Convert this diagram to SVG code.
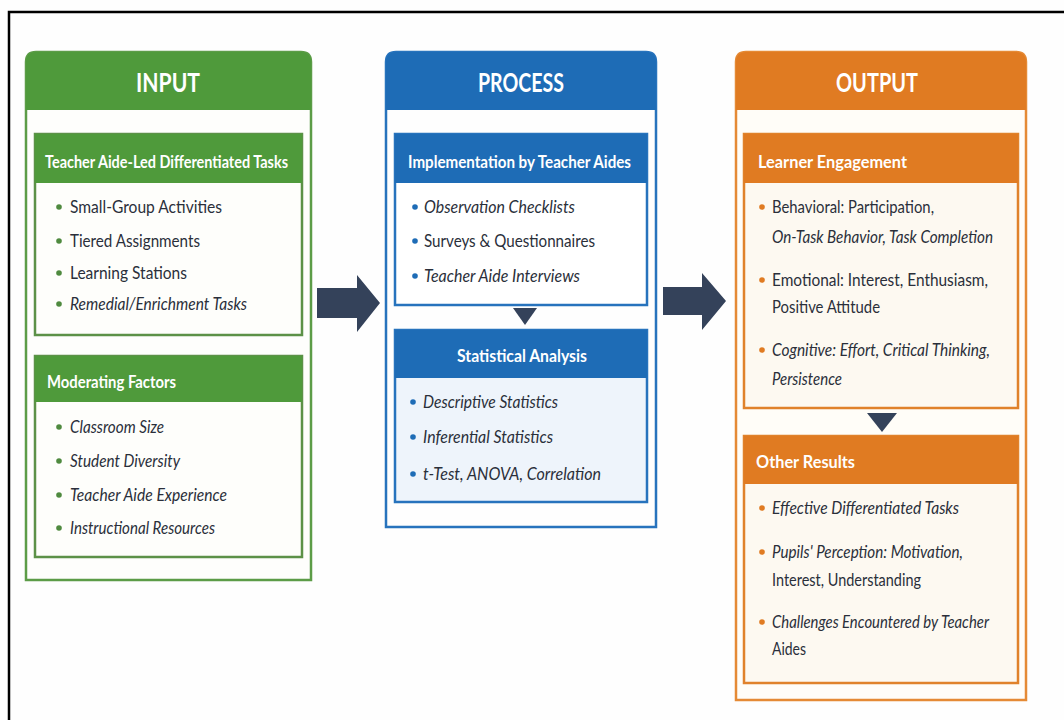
<svg xmlns="http://www.w3.org/2000/svg" width="1064" height="720" viewBox="0 0 1064 720">
<defs>
<style>
.title{font-family:Lato,"Open Sans","Liberation Sans",sans-serif;font-weight:bold;font-size:26px;fill:#ffffff;text-anchor:middle}
.hdr{font-family:Lato,"Open Sans","Liberation Sans",sans-serif;font-weight:bold;font-size:16.5px;fill:#ffffff}
.item{font-family:Lato,"Open Sans","Liberation Sans",sans-serif;font-size:18px;fill:#2a2f3a}
.it{font-style:italic}
.g-panel{fill:#fefefc;stroke:#5c9c47;stroke-width:2.5}
.g-head{fill:#4f9a3b}
.g-body{fill:#fefefb;stroke:#5c9147;stroke-width:2.5}
.b-panel{fill:#fefefe;stroke:#2773bd;stroke-width:2.5}
.b-head{fill:#1e6cb6}
.b-body{fill:#ffffff;stroke:#2773bd;stroke-width:2.5}
.b-body2{fill:#eef4fb;stroke:#2773bd;stroke-width:2.5}
.o-panel{fill:#fffdf8;stroke:#e58a35;stroke-width:2.5}
.o-head{fill:#e07b22}
.o-body{fill:#fdf9f1;stroke:#e0822b;stroke-width:2.5}
.dotg{fill:#4f8a3f}
.dotb{fill:#1e6cb6}
.doto{fill:#e07b22}
.arrow{fill:#34425a}
</style>
</defs>
<rect x="0" y="0" width="1064" height="720" fill="#fefefe"/>
<path d="M9,720 V12 H1064" fill="none" stroke="#000000" stroke-width="2.5"/>

<g id="input">
<path class="g-panel" d="M26,580 V62 Q26,52 36,52 H301 Q311,52 311,62 V580 Z"/>
<path class="g-head" d="M26,110 V62 Q26,52 36,52 H301 Q311,52 311,62 V110 Z"/>
<text class="title" x="168" y="92" textLength="64" lengthAdjust="spacingAndGlyphs">INPUT</text>
</g>
<g id="input-tasks">
<rect class="g-body" x="35" y="134" width="267" height="201"/>
<rect class="g-head" x="35" y="134" width="267" height="49"/>
<text class="hdr" x="45" y="168" textLength="243" lengthAdjust="spacingAndGlyphs">Teacher Aide-Led Differentiated Tasks</text>
<circle class="dotg" cx="59" cy="207" r="2.8"/><text class="item" x="70" y="213" textLength="152" lengthAdjust="spacingAndGlyphs">Small-Group Activities</text>
<circle class="dotg" cx="59" cy="241" r="2.8"/><text class="item" x="70" y="247" textLength="130" lengthAdjust="spacingAndGlyphs">Tiered Assignments</text>
<circle class="dotg" cx="59" cy="273" r="2.8"/><text class="item" x="70" y="279" textLength="117" lengthAdjust="spacingAndGlyphs">Learning Stations</text>
<circle class="dotg" cx="59" cy="304" r="2.8"/><text class="item it" x="70" y="310" textLength="177" lengthAdjust="spacingAndGlyphs">Remedial/Enrichment Tasks</text>
</g>
<g id="input-moderating">
<rect class="g-body" x="35" y="356" width="267" height="201"/>
<rect class="g-head" x="35" y="356" width="267" height="46"/>
<text class="hdr" x="47" y="388" textLength="129" lengthAdjust="spacingAndGlyphs">Moderating Factors</text>
<circle class="dotg" cx="59" cy="427" r="2.8"/><text class="item it" x="70" y="433" textLength="94" lengthAdjust="spacingAndGlyphs">Classroom Size</text>
<circle class="dotg" cx="59" cy="461" r="2.8"/><text class="item it" x="70" y="467" textLength="110" lengthAdjust="spacingAndGlyphs">Student Diversity</text>
<circle class="dotg" cx="59" cy="495" r="2.8"/><text class="item it" x="70" y="501" textLength="157" lengthAdjust="spacingAndGlyphs">Teacher Aide Experience</text>
<circle class="dotg" cx="59" cy="528" r="2.8"/><text class="item it" x="70" y="534" textLength="145" lengthAdjust="spacingAndGlyphs">Instructional Resources</text>
</g>

<g id="process">
<path class="b-panel" d="M386,527 V62 Q386,52 396,52 H646 Q656,52 656,62 V527 Z"/>
<path class="b-head" d="M386,110 V62 Q386,52 396,52 H646 Q656,52 656,62 V110 Z"/>
<text class="title" x="521" y="92" textLength="86" lengthAdjust="spacingAndGlyphs">PROCESS</text>
</g>
<g id="process-impl">
<rect class="b-body" x="395" y="134" width="252" height="171"/>
<rect class="b-head" x="395" y="134" width="252" height="49"/>
<text class="hdr" x="408" y="168" textLength="223" lengthAdjust="spacingAndGlyphs">Implementation by Teacher Aides</text>
<circle class="dotb" cx="415" cy="207" r="2.8"/><text class="item it" x="424" y="213" textLength="151" lengthAdjust="spacingAndGlyphs">Observation Checklists</text>
<circle class="dotb" cx="415" cy="241" r="2.8"/><text class="item" x="424" y="247" textLength="171" lengthAdjust="spacingAndGlyphs">Surveys &amp; Questionnaires</text>
<circle class="dotb" cx="415" cy="276" r="2.8"/><text class="item it" x="424" y="282" textLength="156" lengthAdjust="spacingAndGlyphs">Teacher Aide Interviews</text>
</g>
<g id="process-stats">
<rect class="b-body2" x="395" y="330" width="252" height="172"/>
<rect class="b-head" x="395" y="330" width="252" height="48"/>
<text class="hdr" x="457" y="362" textLength="130" lengthAdjust="spacingAndGlyphs">Statistical Analysis</text>
<circle class="dotb" cx="413" cy="402" r="2.8"/><text class="item it" x="423" y="408" textLength="135" lengthAdjust="spacingAndGlyphs">Descriptive Statistics</text>
<circle class="dotb" cx="413" cy="437" r="2.8"/><text class="item it" x="423" y="443" textLength="130" lengthAdjust="spacingAndGlyphs">Inferential Statistics</text>
<circle class="dotb" cx="413" cy="474" r="2.8"/><text class="item it" x="423" y="480" textLength="178" lengthAdjust="spacingAndGlyphs">t-Test, ANOVA, Correlation</text>
</g>

<g id="output">
<path class="o-panel" d="M736,700 V62 Q736,52 746,52 H1016 Q1026,52 1026,62 V700 Z"/>
<path class="o-head" d="M736,110 V62 Q736,52 746,52 H1016 Q1026,52 1026,62 V110 Z"/>
<text class="title" x="877" y="92" textLength="82" lengthAdjust="spacingAndGlyphs">OUTPUT</text>
</g>
<g id="output-engagement">
<rect class="o-body" x="744" y="134" width="274" height="274"/>
<rect class="o-head" x="744" y="134" width="274" height="49"/>
<text class="hdr" x="758" y="168" textLength="149" lengthAdjust="spacingAndGlyphs">Learner Engagement</text>
<circle class="doto" cx="762" cy="207" r="2.8"/><text class="item" x="772" y="213" textLength="162" lengthAdjust="spacingAndGlyphs">Behavioral: Participation,</text>
<text class="item it" x="772" y="243" textLength="221" lengthAdjust="spacingAndGlyphs">On-Task Behavior, Task Completion</text>
<circle class="doto" cx="762" cy="280" r="2.8"/><text class="item" x="772" y="286" textLength="216" lengthAdjust="spacingAndGlyphs">Emotional: Interest, Enthusiasm,</text>
<text class="item" x="772" y="313" textLength="108" lengthAdjust="spacingAndGlyphs">Positive Attitude</text>
<circle class="doto" cx="762" cy="350" r="2.8"/><text class="item it" x="772" y="356" textLength="218" lengthAdjust="spacingAndGlyphs">Cognitive: Effort, Critical Thinking,</text>
<text class="item it" x="772" y="385" textLength="70" lengthAdjust="spacingAndGlyphs">Persistence</text>
</g>
<g id="output-other">
<rect class="o-body" x="744" y="436" width="274" height="247"/>
<rect class="o-head" x="744" y="436" width="274" height="48"/>
<text class="hdr" x="756" y="468" textLength="99" lengthAdjust="spacingAndGlyphs">Other Results</text>
<circle class="doto" cx="762" cy="508" r="2.8"/><text class="item it" x="772" y="514" textLength="187" lengthAdjust="spacingAndGlyphs">Effective Differentiated Tasks</text>
<circle class="doto" cx="762" cy="552" r="2.8"/><text class="item it" x="772" y="558" textLength="191" lengthAdjust="spacingAndGlyphs">Pupils' Perception: Motivation,</text>
<text class="item" x="772" y="586" textLength="149" lengthAdjust="spacingAndGlyphs">Interest, Understanding</text>
<circle class="doto" cx="762" cy="622" r="2.8"/><text class="item it" x="772" y="628" textLength="217" lengthAdjust="spacingAndGlyphs">Challenges Encountered by Teacher</text>
<text class="item" x="772" y="655" textLength="34" lengthAdjust="spacingAndGlyphs">Aides</text>
</g>

<g id="connectors">
<polygon class="arrow" points="317,288 357,288 357,275 380,303 357,332 357,318 317,318"/>
<polygon class="arrow" points="663,287 702,287 702,273 726,301 702,330 702,315 663,315"/>
<polygon class="arrow" points="513,308 537,308 525,325"/>
<polygon class="arrow" points="867,413 897,413 882,432"/>
</g>
</svg>
